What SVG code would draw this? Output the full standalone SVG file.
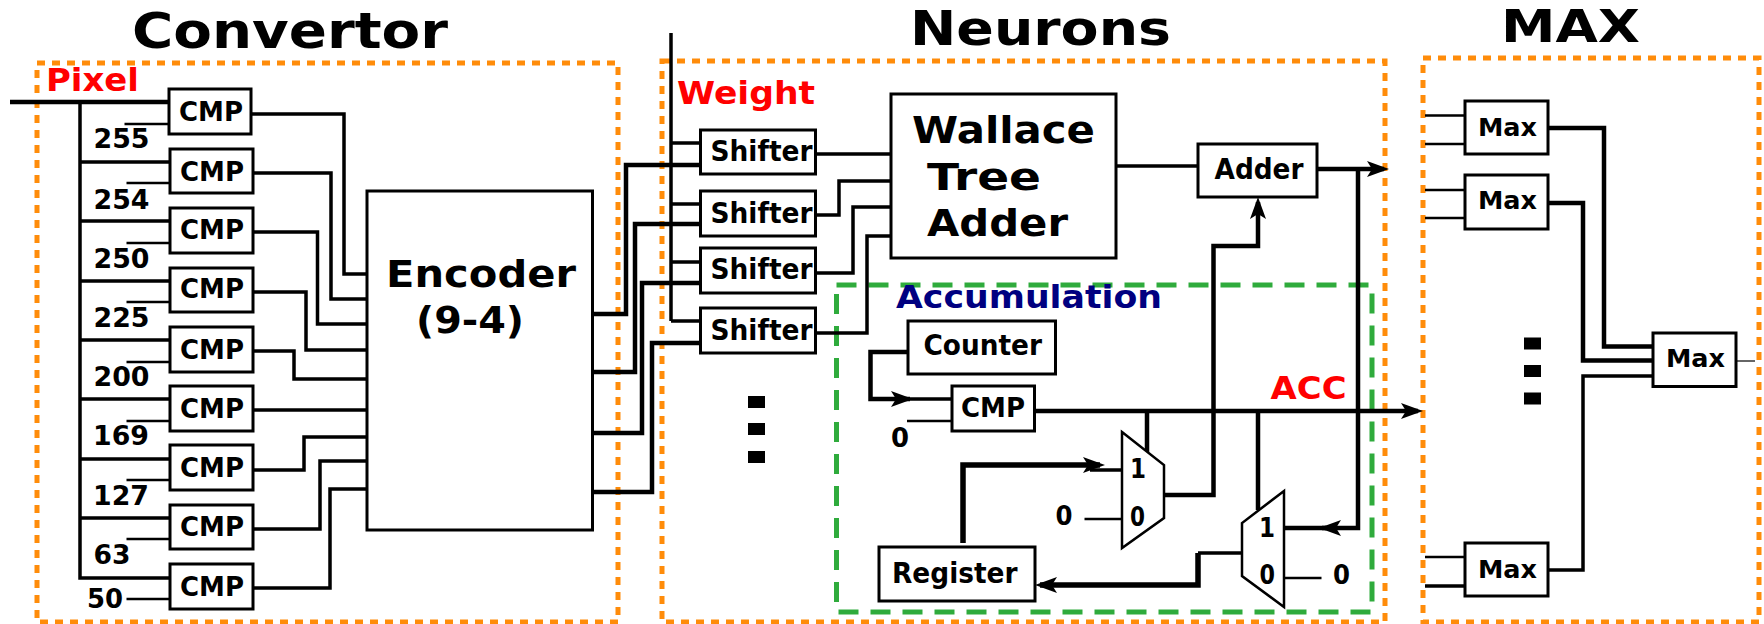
<svg xmlns="http://www.w3.org/2000/svg" width="1764" height="624" viewBox="0 0 1764 624">
<style>
text{font-family:"DejaVu Sans","Liberation Sans",sans-serif;font-weight:700;fill:#000}
.box{fill:#fff;stroke:#000;stroke-width:3}
.mux{fill:#fff;stroke:#000;stroke-width:2.5;stroke-linejoin:miter}
.org{fill:none;stroke:#ff8c0a;stroke-width:5;stroke-dasharray:8 7}
.grn{fill:none;stroke:#2fab3c;stroke-width:5;stroke-dasharray:20 12}
.t{fill:none;stroke:#000;stroke-width:2.5;stroke-linejoin:miter}
.m{fill:none;stroke:#000;stroke-width:3.5;stroke-linejoin:miter}
.k{fill:none;stroke:#000;stroke-width:4.5;stroke-linejoin:miter}
.a{marker-end:url(#arr)}
.s25{font-size:27px}.s24{font-size:26px}.s26{font-size:28px}.s26b{font-size:25px}.s29{font-size:32px}.s34{font-size:38px}.s47{font-size:50px}.s48{font-size:48px}.s44{font-size:44px}
.red{fill:#ff0000}.navy{fill:#000080}
</style>
<defs>
<marker id="arr" markerUnits="userSpaceOnUse" markerWidth="26" markerHeight="20" viewBox="0 0 26 20" refX="17" refY="10" orient="auto">
<path d="M0 2L22 10L0 18L5 10Z" fill="#000"/>
</marker>
</defs>

<g id="regions">
<rect class="org" x="37" y="63" width="581" height="559"/>
<rect class="org" x="662" y="61" width="723" height="561"/>
<rect class="org" x="1423" y="58" width="336" height="564"/>
<rect class="grn" x="836.5" y="285" width="535.5" height="327"/>
</g>

<g id="titles">
<text class="s47" x="132" y="48" textLength="316" lengthAdjust="spacingAndGlyphs">Convertor</text>
<text class="s48" x="910" y="45" textLength="261" lengthAdjust="spacingAndGlyphs">Neurons</text>
<text class="s44" x="1501" y="42" textLength="139" lengthAdjust="spacingAndGlyphs">MAX</text>
<text class="s29 red" x="46" y="91" textLength="93" lengthAdjust="spacingAndGlyphs">Pixel</text>
<text class="s29 red" x="677" y="104" textLength="138" lengthAdjust="spacingAndGlyphs">Weight</text>
<text class="s29 red" x="1270.6" y="399" textLength="76" lengthAdjust="spacingAndGlyphs">ACC</text>
<text class="s29 navy" x="896" y="308" textLength="266" lengthAdjust="spacingAndGlyphs">Accumulation</text>
<text class="s24" x="93.5" y="148" textLength="56" lengthAdjust="spacingAndGlyphs">255</text>
<text class="s24" x="93.5" y="209" textLength="56" lengthAdjust="spacingAndGlyphs">254</text>
<text class="s24" x="93.5" y="268" textLength="56" lengthAdjust="spacingAndGlyphs">250</text>
<text class="s24" x="93.5" y="327" textLength="56" lengthAdjust="spacingAndGlyphs">225</text>
<text class="s24" x="93.5" y="386" textLength="56" lengthAdjust="spacingAndGlyphs">200</text>
<text class="s24" x="93" y="445" textLength="56" lengthAdjust="spacingAndGlyphs">169</text>
<text class="s24" x="93" y="505" textLength="56" lengthAdjust="spacingAndGlyphs">127</text>
<text class="s24" x="93.5" y="564" textLength="37" lengthAdjust="spacingAndGlyphs">63</text>
<text class="s24" x="87" y="608" textLength="36" lengthAdjust="spacingAndGlyphs">50</text>
<text class="s24" x="891" y="447" textLength="18" lengthAdjust="spacingAndGlyphs">0</text>
<text class="s24" x="1055.5" y="525" textLength="17" lengthAdjust="spacingAndGlyphs">0</text>
<text class="s24" x="1333" y="584" textLength="17" lengthAdjust="spacingAndGlyphs">0</text>
</g>

<g id="connectors">
<path class="k" d="M10 102H169"/>
<path class="m" d="M80 102V578H170M80 162H170M80 221H170M80 281H170M80 340H170M80 399H170M80 459H170M80 518H170"/>
<path class="t" d="M124.500 124H169M126.500 183H170M126.500 243H170M126.500 302H170M126.500 362H170M126.500 421H170M126.500 480H170M126.500 539H170M126.500 599H170"/>
<path class="m" d="M251 114H344V274H367"/>
<path class="m" d="M253 173H331V299H367"/>
<path class="m" d="M253 232H317.500V324H367"/>
<path class="m" d="M253 292H306V350H367"/>
<path class="m" d="M253 351H294V379H367"/>
<path class="m" d="M253 410H367"/>
<path class="m" d="M253 470H304V437H367"/>
<path class="m" d="M253 529H320V461H367"/>
<path class="m" d="M253 588H330V489H367"/>
<path class="k" d="M592 314H626V165H700"/>
<path class="k" d="M592 372H635V224H700"/>
<path class="k" d="M592 433H642V283H700"/>
<path class="k" d="M592 492H652V343H700"/>
<path class="m" d="M671 33V321"/>
<path class="m" d="M671 143H700M671 204H700M671 262H700M671 321H700"/>
<path class="m" d="M816 154H891"/>
<path class="m" d="M816 215H839V181H891"/>
<path class="m" d="M816 273H853V207H891"/>
<path class="m" d="M816 333H867V236H891"/>
<path class="m" d="M1116 166H1198"/>
<path class="k a" d="M1317 169H1384"/>
<path class="k" d="M1358 169V528H1322"/>
<path class="k a" d="M1326 528H1324"/>
<path class="k" d="M1324 528H1285"/>
<path class="k a" d="M1165 495H1213.500V246H1258V202"/>
<path class="k" d="M908 352H870.500V399H910"/>
<path class="a m" d="M905 399H908"/>
<path class="m" d="M905 399H952"/>
<path class="t" d="M907 421H952"/>
<path class="k a" d="M1035 411H1418"/>
<path class="k" d="M1147 411V452M1258 411V510"/>
<path class="k a" style="stroke-width:5.500" d="M963 543V465H1100"/>
<path class="m" d="M1090 470H1122"/>
<path class="t" d="M1084.500 519H1122M1284 578H1321.500"/>
<path class="m" d="M1242 553H1198"/>
<path class="k a" style="stroke-width:5.500" d="M1198 553V585H1040"/>
<path class="t" d="M1425 115.500H1465M1425 144H1465M1425 190H1465M1425 218H1465M1425 557H1465"/>
<path class="m" d="M1425 586H1465"/>
<path class="k" d="M1548 128H1604V346.500H1653"/>
<path class="k" d="M1548 203H1583V360.500H1653"/>
<path class="m" d="M1548 570H1583V376H1653"/>
<path d="M1736 361H1755" fill="none" stroke="#333" stroke-width="1.500"/>
</g>

<g id="cmp1"><rect class="box" x="169" y="89" width="82" height="45"/><text class="s25" x="179" y="121" textLength="64" lengthAdjust="spacingAndGlyphs">CMP</text></g>
<g id="cmp2"><rect class="box" x="170" y="149" width="83" height="44"/><text class="s25" x="180" y="181" textLength="64" lengthAdjust="spacingAndGlyphs">CMP</text></g>
<g id="cmp3"><rect class="box" x="170" y="208" width="83" height="45"/><text class="s25" x="180" y="239" textLength="64" lengthAdjust="spacingAndGlyphs">CMP</text></g>
<g id="cmp4"><rect class="box" x="170" y="268" width="83" height="44"/><text class="s25" x="180" y="298" textLength="64" lengthAdjust="spacingAndGlyphs">CMP</text></g>
<g id="cmp5"><rect class="box" x="170" y="327" width="83" height="45"/><text class="s25" x="180" y="359" textLength="64" lengthAdjust="spacingAndGlyphs">CMP</text></g>
<g id="cmp6"><rect class="box" x="170" y="386" width="83" height="45"/><text class="s25" x="180" y="418" textLength="64" lengthAdjust="spacingAndGlyphs">CMP</text></g>
<g id="cmp7"><rect class="box" x="170" y="445" width="83" height="45"/><text class="s25" x="180" y="477" textLength="64" lengthAdjust="spacingAndGlyphs">CMP</text></g>
<g id="cmp8"><rect class="box" x="170" y="505" width="83" height="44"/><text class="s25" x="180" y="536" textLength="64" lengthAdjust="spacingAndGlyphs">CMP</text></g>
<g id="cmp9"><rect class="box" x="170" y="564" width="83" height="45"/><text class="s25" x="180" y="596" textLength="64" lengthAdjust="spacingAndGlyphs">CMP</text></g>

<g id="encoder"><rect class="box" x="367" y="191" width="225.500" height="339"/>
<text class="s34" x="386" y="287" textLength="190" lengthAdjust="spacingAndGlyphs">Encoder</text>
<text class="s34" x="416" y="333" textLength="108" lengthAdjust="spacingAndGlyphs">(9-4)</text></g>

<g id="shifter1"><rect class="box" x="700.500" y="130" width="115" height="44"/><text class="s26" x="710.500" y="161" textLength="102" lengthAdjust="spacingAndGlyphs">Shifter</text></g>
<g id="shifter2"><rect class="box" x="700.500" y="191" width="115" height="45"/><text class="s26" x="710.500" y="223" textLength="102" lengthAdjust="spacingAndGlyphs">Shifter</text></g>
<g id="shifter3"><rect class="box" x="700.500" y="248" width="115" height="45"/><text class="s26" x="710.500" y="279" textLength="102" lengthAdjust="spacingAndGlyphs">Shifter</text></g>
<g id="shifter4"><rect class="box" x="700.500" y="308" width="115" height="45"/><text class="s26" x="710.500" y="340" textLength="102" lengthAdjust="spacingAndGlyphs">Shifter</text></g>

<g id="wallace"><rect class="box" x="891" y="94" width="225" height="164"/>
<text class="s34" x="912" y="143" textLength="183" lengthAdjust="spacingAndGlyphs">Wallace</text>
<text class="s34" x="927" y="190" textLength="114" lengthAdjust="spacingAndGlyphs">Tree</text>
<text class="s34" x="927" y="236" textLength="141" lengthAdjust="spacingAndGlyphs">Adder</text></g>

<g id="adder"><rect class="box" x="1198" y="144" width="119" height="53"/><text class="s26" x="1214.500" y="179" textLength="89" lengthAdjust="spacingAndGlyphs">Adder</text></g>
<g id="counter"><rect class="box" x="908" y="321" width="147.500" height="53"/><text class="s26" x="923.500" y="355" textLength="118.500" lengthAdjust="spacingAndGlyphs">Counter</text></g>
<g id="cmp-acc"><rect class="box" x="952" y="386" width="82.500" height="45"/><text class="s25" x="961" y="417" textLength="64" lengthAdjust="spacingAndGlyphs">CMP</text></g>
<g id="register"><rect class="box" x="879" y="547" width="156" height="54"/><text class="s26" x="892" y="583" textLength="125.500" lengthAdjust="spacingAndGlyphs">Register</text></g>

<g id="mux1"><path class="mux" d="M1122 432L1164 465V518L1122 548Z"/>
<text class="s24" x="1130" y="478" textLength="16" lengthAdjust="spacingAndGlyphs">1</text>
<text class="s24" x="1130" y="526" textLength="15" lengthAdjust="spacingAndGlyphs">0</text></g>
<g id="mux2"><path class="mux" d="M1284 491V607L1242 576V523Z"/>
<text class="s24" x="1259" y="537" textLength="16" lengthAdjust="spacingAndGlyphs">1</text>
<text class="s24" x="1259.500" y="584" textLength="15.500" lengthAdjust="spacingAndGlyphs">0</text></g>

<g id="max1"><rect class="box" x="1465" y="101" width="83" height="53"/><text class="s26b" x="1478" y="135.500" textLength="59" lengthAdjust="spacingAndGlyphs">Max</text></g>
<g id="max2"><rect class="box" x="1465" y="175" width="83" height="54"/><text class="s26b" x="1478" y="209" textLength="59" lengthAdjust="spacingAndGlyphs">Max</text></g>
<g id="max3"><rect class="box" x="1465" y="543" width="83" height="53"/><text class="s26b" x="1478" y="578" textLength="59" lengthAdjust="spacingAndGlyphs">Max</text></g>
<g id="max4"><rect class="box" x="1653" y="333" width="83" height="53.500"/><text class="s26b" x="1666" y="367" textLength="59" lengthAdjust="spacingAndGlyphs">Max</text></g>

<g id="ellipsis-neurons"><rect x="748" y="396" width="17" height="12"/><rect x="748" y="423" width="17" height="12"/><rect x="748" y="451" width="17" height="12"/></g>
<g id="ellipsis-max"><rect x="1524" y="337.500" width="17" height="12"/><rect x="1524" y="365" width="17" height="12"/><rect x="1524" y="392.500" width="17" height="12"/></g>
</svg>
